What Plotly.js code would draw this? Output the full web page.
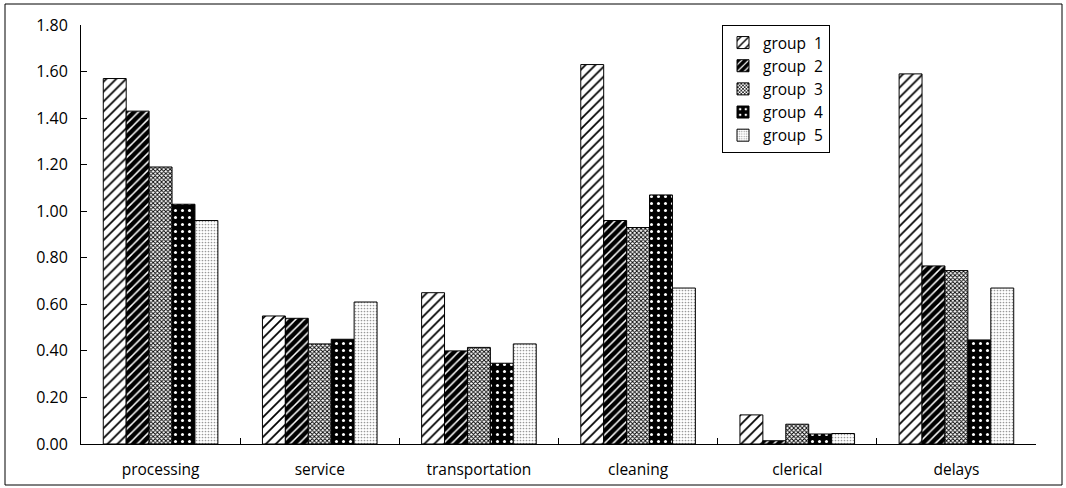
<!DOCTYPE html>
<html><head><meta charset="utf-8">
<script src="https://cdn.plot.ly/plotly-3.0.1.min.js"></script>
<style>body{margin:0;background:#fff}#chart{width:1066px;height:488px}</style>
</head><body><div id="chart"></div>
<script>
const categories = ["processing","service","transportation","cleaning","clerical","delays"];
const seriesNames = ["group\u00a0\u00a01","group\u00a0\u00a02","group\u00a0\u00a03","group\u00a0\u00a04","group\u00a0\u00a05"];
const group1 = [1.57, 0.55, 0.65, 1.63, 0.125, 1.59];
const group2 = [1.43, 0.54, 0.40, 0.96, 0.014, 0.765];
const group3 = [1.19, 0.43, 0.415, 0.93, 0.085, 0.745];
const group4 = [1.03, 0.45, 0.347, 1.07, 0.043, 0.447];
const group5 = [0.96, 0.61, 0.43, 0.67, 0.045, 0.67];
const yTicks = [0,0.2,0.4,0.6,0.8,1.0,1.2,1.4,1.6,1.8];

const values = [group1, group2, group3, group4, group5];
const patterns = [
  {shape:'/', bgcolor:'#ffffff', fgcolor:'#000000', size:7, solidity:0.25, fillmode:'replace'},
  {shape:'/', bgcolor:'#000000', fgcolor:'#ffffff', size:6, solidity:0.25, fillmode:'replace'},
  {shape:'x', bgcolor:'#ffffff', fgcolor:'#000000', size:3, solidity:0.5, fillmode:'replace'},
  {shape:'.', bgcolor:'#000000', fgcolor:'#ffffff', size:7, solidity:0.15, fillmode:'replace'},
  {shape:'.', bgcolor:'#ffffff', fgcolor:'#999999', size:3, solidity:0.25, fillmode:'replace'}
];
const data = values.map((v,i)=>({
  type:'bar', x:categories, y:v, name:seriesNames[i],
  marker:{color:'#ffffff', line:{color:'#000000', width:1}, pattern:patterns[i]}
}));

const L=81, R=1036, T=25, B=444, W=1066, H=488;
const pw=R-L, ph=B-T;
const layout = {
  width:W, height:H,
  margin:{l:L, r:W-R, t:T, b:H-B, pad:0},
  paper_bgcolor:'#ffffff', plot_bgcolor:'#ffffff',
  font:{family:'"Open Sans", "DejaVu Sans", sans-serif', size:15, color:'#000'},
  barmode:'group', bargap:0.28, bargroupgap:0,
  showlegend:true,
  legend:{x:(722-L)/pw, y:1, xanchor:'left', yanchor:'top', bordercolor:'#000', borderwidth:1,
    bgcolor:'#fff', font:{size:15.5}, itemwidth:30, traceorder:'normal'},
  xaxis:{type:'category', showline:true, linecolor:'#000', linewidth:1, ticks:'inside', ticklen:6,
    tickcolor:'#000', tickson:'boundaries', showgrid:false, zeroline:false, ticklabelstandoff:11, tickfont:{size:15.5}},
  yaxis:{range:[0,1.8], tickvals:yTicks, ticktext:yTicks.map(t=>t.toFixed(2)), showline:true, linecolor:'#000', linewidth:1,
    ticks:'inside', ticklen:6, tickcolor:'#000', showgrid:false, zeroline:false, ticklabelstandoff:9, tickfont:{size:16}},
  shapes:[{type:'rect', xref:'paper', yref:'paper', x0:(5-L)/pw, x1:(1062-L)/pw, y0:(B-485)/ph, y1:(B-4)/ph,
    line:{color:'#000', width:1}, fillcolor:'rgba(0,0,0,0)', layer:'below'}]
};
Plotly.newPlot('chart', data, layout, {displayModeBar:false, staticPlot:true});
</script></body></html>
